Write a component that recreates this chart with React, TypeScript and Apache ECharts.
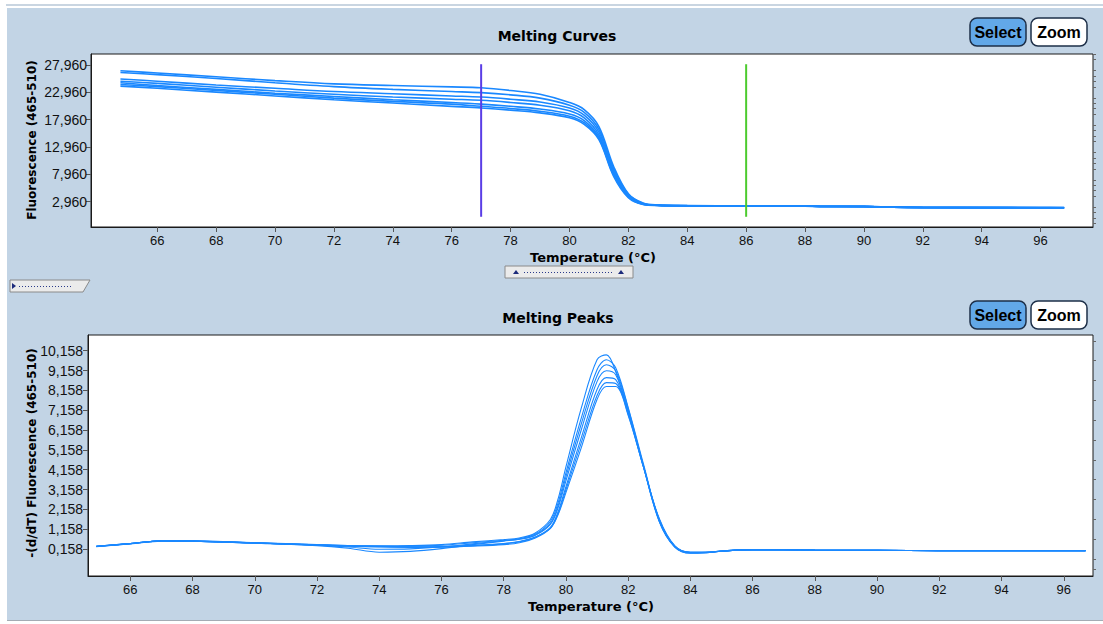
import React, { useEffect, useRef } from "react";
import * as echarts from "echarts";

// ---------- DATA ----------
const xTicks = [66, 68, 70, 72, 74, 76, 78, 80, 82, 84, 86, 88, 90, 92, 94, 96];

const topYTicks = [2960, 7960, 12960, 17960, 22960, 27960];
const topYLabels = ["2,960", "7,960", "12,960", "17,960", "22,960", "27,960"];

const bottomYTicks = [158, 1158, 2158, 3158, 4158, 5158, 6158, 7158, 8158, 9158, 10158];
const bottomYLabels = ["0,158", "1,158", "2,158", "3,158", "4,158", "5,158", "6,158", "7,158", "8,158", "9,158", "10,158"];

const cursorTemps = [77, 86];
const cursorRange = [28100, 200];

// Melting curves (fluorescence vs temperature)
const curveTemps = [64.75, 66, 68, 70, 72, 74, 76, 77, 78, 79, 80, 80.5, 81, 81.5, 82, 82.5, 83, 84, 86, 88, 88.5, 90, 91, 92, 94, 96, 96.8];
const curveA = [26900, 26500, 25800, 25100, 24500, 24200, 23950, 23800, 23300, 22600, 21100, 19800, 16700, 9400, 4400, 2700, 2350, 2250, 2200, 2180, 2120, 2100, 1980, 1920, 1900, 1880, 1880];
const curveB = [26600, 26200, 25500, 24700, 24000, 23500, 23100, 22900, 22500, 21900, 20600, 19300, 16200, 9000, 4300, 2650, 2330, 2240, 2200, 2170, 2110, 2090, 1970, 1910, 1890, 1880, 1870];
const curveC = [25400, 25000, 24300, 23700, 23100, 22700, 22300, 22100, 21700, 21200, 20100, 18800, 15700, 8600, 4100, 2600, 2310, 2230, 2190, 2160, 2100, 2080, 1960, 1900, 1880, 1870, 1860];
const curveD = [25000, 24600, 23900, 23200, 22600, 22100, 21700, 21500, 21100, 20600, 19600, 18300, 15200, 8300, 4000, 2550, 2300, 2220, 2180, 2150, 2100, 2070, 1950, 1900, 1880, 1860, 1860];
const curveE = [24700, 24200, 23500, 22800, 22200, 21600, 21100, 20800, 20400, 19900, 19000, 17800, 14800, 8000, 3900, 2500, 2290, 2210, 2170, 2150, 2090, 2070, 1950, 1890, 1870, 1860, 1850];
const curveF = [24400, 24000, 23300, 22600, 21900, 21300, 20800, 20400, 20000, 19500, 18600, 17400, 14500, 7800, 3800, 2500, 2280, 2200, 2170, 2140, 2090, 2060, 1940, 1890, 1870, 1850, 1850];
const curveG = [24100, 23700, 23000, 22300, 21600, 21000, 20400, 20100, 19700, 19200, 18300, 17100, 14300, 7600, 3700, 2450, 2270, 2200, 2160, 2140, 2080, 2060, 1940, 1880, 1860, 1850, 1840];

// Melting peaks (-dF/dT vs temperature)
const peakTemps = [64.9, 66, 67, 68, 70, 72, 73, 74, 75, 76, 77, 78, 78.5, 79, 79.5, 79.75, 80, 80.5, 81, 81.3, 81.6, 82, 82.5, 83, 83.5, 84, 84.5, 85, 86, 88, 90, 92, 94, 96, 96.7];
const peak1 = [300, 440, 580, 570, 480, 380, 340, 320, 330, 380, 520, 640, 720, 960, 1650, 2700, 4300, 7300, 9700, 9950, 9100, 7100, 4250, 1550, 260, -40, -10, 60, 130, 110, 90, 80, 80, 80, 80];
const peak2 = [280, 430, 570, 560, 470, 370, 320, 290, 300, 350, 480, 600, 680, 900, 1550, 2500, 4000, 6800, 9200, 9700, 9300, 7300, 4400, 1600, 280, -30, -20, 50, 120, 100, 90, 80, 80, 80, 80];
const peak3 = [290, 420, 560, 550, 450, 330, 200, 0, 40, 180, 380, 560, 650, 860, 1450, 2350, 3800, 6500, 8900, 9450, 9150, 7250, 4300, 1550, 260, -50, -20, 50, 120, 100, 90, 80, 80, 80, 80];
const peak4 = [290, 430, 570, 550, 460, 350, 260, 150, 170, 260, 420, 580, 660, 840, 1400, 2250, 3600, 6200, 8600, 9150, 8950, 7150, 4300, 1600, 280, -20, -20, 50, 120, 100, 90, 80, 80, 80, 80];
const peak5 = [300, 440, 580, 560, 470, 360, 310, 280, 260, 280, 330, 420, 520, 740, 1250, 2050, 3300, 5800, 8200, 8800, 8700, 7050, 4300, 1650, 300, -10, -10, 60, 130, 110, 90, 80, 80, 80, 80];
const peak6 = [290, 430, 570, 560, 460, 360, 300, 260, 240, 250, 300, 380, 480, 700, 1200, 1950, 3150, 5550, 7900, 8550, 8500, 6950, 4250, 1650, 300, -10, -10, 60, 130, 110, 90, 80, 80, 80, 80];
const peak7 = [300, 440, 580, 570, 470, 370, 330, 310, 300, 300, 340, 440, 540, 760, 1200, 1900, 3000, 5300, 7700, 8350, 8350, 6900, 4250, 1700, 320, 0, 0, 60, 130, 110, 90, 80, 80, 80, 80];

// ---------- HELPERS ----------
const LINE = "#1a88ff";
const FONT = "Liberation Sans";

const pair = (xs: number[], ys: number[]) => xs.map((x, i) => [x, ys[i]]);

const labelFor = (ticks: number[], labels: string[]) => (v: number) => {
  const i = ticks.findIndex((t) => Math.abs(t - v) < 1e-6);
  return i >= 0 ? labels[i] : "";
};

const minorTicks = (start: number, step: number, max: number, majors: number[]) => {
  const out: number[] = [];
  for (let v = start; v <= max; v += step) {
    if (!majors.some((m) => Math.abs(m - v) < 1e-6)) out.push(v);
  }
  return out;
};

const lineSeries = (data: number[][], xi: number, yi: number, width: number) => ({
  type: "line",
  xAxisIndex: xi,
  yAxisIndex: yi,
  data,
  smooth: 0.35,
  symbol: "none",
  showSymbol: false,
  lineStyle: { color: LINE, width },
  silent: true,
});

const button = (x: number, y: number, label: string, fill: string) => ({
  type: "group",
  silent: true,
  children: [
    {
      type: "rect",
      shape: { x, y, width: 56, height: 28, r: 7 },
      style: { fill, stroke: "#1d2f48", lineWidth: 1.5 },
    },
    {
      type: "text",
      x: x + 28,
      y: y + 14,
      style: {
        text: label,
        fill: "#000",
        font: `bold 16px "${FONT}"`,
        align: "center",
        verticalAlign: "middle",
      },
    },
  ],
});

const tri = (cx: number, cy: number, dir: "up" | "right") => ({
  type: "polygon",
  silent: true,
  shape: {
    points:
      dir === "up"
        ? [[cx - 3, cy + 2], [cx + 3, cy + 2], [cx, cy - 2]]
        : [[cx - 2, cy - 3], [cx - 2, cy + 3], [cx + 2, cy]],
  },
  style: { fill: "#1c2a7a" },
});

export default function App() {
  const ref = useRef<HTMLDivElement>(null);

  useEffect(() => {
    if (!ref.current) return;
    const chart = echarts.init(ref.current, null, { renderer: "svg" });

    const xAxisCommon = {
      type: "value",
      axisLine: { show: true, onZero: false, lineStyle: { color: "#1a1a1a" } },
      axisTick: { show: true, length: 5, customValues: xTicks, lineStyle: { color: "#555" } },
      axisLabel: { customValues: xTicks, fontSize: 13, color: "#111", margin: 7, fontFamily: FONT },
      splitLine: { show: false },
    };

    const topMinor = minorTicks(-1040, 1000, 29970, topYTicks);
    const bottomMinor = minorTicks(-842, 500, 10950, bottomYTicks);

    const option: any = {
      animation: false,
      textStyle: { fontFamily: FONT },
      grid: [
        { left: 91, top: 54, width: 1002, height: 173, show: true, backgroundColor: "#fff", borderColor: "#1a1a1a", borderWidth: 1 },
        { left: 88, top: 335, width: 1005, height: 241, show: true, backgroundColor: "#fff", borderColor: "#1a1a1a", borderWidth: 1 },
      ],
      xAxis: [
        { ...xAxisCommon, gridIndex: 0, min: 63.75, max: 97.78 },
        { ...xAxisCommon, gridIndex: 1, min: 64.64, max: 96.94 },
      ],
      yAxis: [
        {
          type: "value",
          gridIndex: 0,
          min: -1670,
          max: 29970,
          axisLine: { show: true, lineStyle: { color: "#1a1a1a" } },
          axisTick: { show: true, length: 5, customValues: topYTicks, lineStyle: { color: "#555" } },
          axisLabel: { customValues: topYTicks, formatter: labelFor(topYTicks, topYLabels), fontSize: 14, color: "#111", margin: 4, fontFamily: FONT },
          splitLine: { show: false },
        },
        {
          type: "value",
          gridIndex: 0,
          min: -1670,
          max: 29970,
          axisLine: { show: false },
          axisTick: { show: true, length: 3, customValues: topMinor, lineStyle: { color: "#666" } },
          axisLabel: { show: false },
          splitLine: { show: false },
        },
        {
          type: "value",
          gridIndex: 1,
          min: -1200,
          max: 10950,
          axisLine: { show: true, lineStyle: { color: "#1a1a1a" } },
          axisTick: { show: true, length: 5, customValues: bottomYTicks, lineStyle: { color: "#555" } },
          axisLabel: { customValues: bottomYTicks, formatter: labelFor(bottomYTicks, bottomYLabels), fontSize: 14, color: "#111", margin: 5, fontFamily: FONT },
          splitLine: { show: false },
        },
        {
          type: "value",
          gridIndex: 1,
          min: -1200,
          max: 10950,
          axisLine: { show: false },
          axisTick: { show: true, length: 3, customValues: bottomMinor, lineStyle: { color: "#666" } },
          axisLabel: { show: false },
          splitLine: { show: false },
        },
      ],
      series: [
        ...[curveA, curveB, curveC, curveD, curveE, curveF, curveG].map((c) => lineSeries(pair(curveTemps, c), 0, 0, 1.6)),
        ...[peak1, peak2, peak3, peak4, peak5, peak6, peak7].map((c) => lineSeries(pair(peakTemps, c), 1, 2, 1.1)),
        {
          type: "line",
          xAxisIndex: 0,
          yAxisIndex: 0,
          data: cursorRange.map((v) => [cursorTemps[0], v]),
          symbol: "none",
          lineStyle: { color: "#5a3de6", width: 2 },
          silent: true,
        },
        {
          type: "line",
          xAxisIndex: 0,
          yAxisIndex: 0,
          data: cursorRange.map((v) => [cursorTemps[1], v]),
          symbol: "none",
          lineStyle: { color: "#4ccb2e", width: 2 },
          silent: true,
        },
      ],
      graphic: [
        // titles
        { type: "text", x: 557, y: 36, silent: true, style: { text: "Melting Curves", fill: "#000", font: 'bold 14px "DejaVu Sans"', align: "center", verticalAlign: "middle" } },
        { type: "text", x: 558, y: 318, silent: true, style: { text: "Melting Peaks", fill: "#000", font: 'bold 14px "DejaVu Sans"', align: "center", verticalAlign: "middle" } },
        // axis names
        { type: "text", x: 593, y: 257, silent: true, style: { text: "Temperature (°C)", fill: "#000", font: 'bold 13px "DejaVu Sans"', align: "center", verticalAlign: "middle" } },
        { type: "text", x: 591, y: 606, silent: true, style: { text: "Temperature (°C)", fill: "#000", font: 'bold 13px "DejaVu Sans"', align: "center", verticalAlign: "middle" } },
        { type: "text", x: 32, y: 140, rotation: Math.PI / 2, silent: true, style: { text: "Fluorescence (465-510)", fill: "#000", font: 'bold 12px "DejaVu Sans"', align: "center", verticalAlign: "middle" } },
        { type: "text", x: 32, y: 453, rotation: Math.PI / 2, silent: true, style: { text: "-(d/dT) Fluorescence (465-510)", fill: "#000", font: 'bold 12px "DejaVu Sans"', align: "center", verticalAlign: "middle" } },
        // buttons
        button(970, 18, "Select", "#62a8e8"),
        button(1031, 18, "Zoom", "#ffffff"),
        button(970, 301, "Select", "#62a8e8"),
        button(1031, 301, "Zoom", "#ffffff"),
        // splitter handles
        {
          type: "polygon",
          silent: true,
          shape: { points: [[10, 280], [90, 280], [83, 292], [10, 292]] },
          style: { fill: "#ebebeb", stroke: "#8a8a8a", lineWidth: 1 },
        },
        tri(14, 286, "right"),
        { type: "line", silent: true, shape: { x1: 19, y1: 286.5, x2: 72, y2: 286.5 }, style: { stroke: "#2a3a8a", lineWidth: 1, lineDash: [1, 2] } },
        {
          type: "rect",
          silent: true,
          shape: { x: 505, y: 266, width: 128, height: 12 },
          style: { fill: "#ebebeb", stroke: "#8a8a8a", lineWidth: 1 },
        },
        tri(516, 272, "up"),
        tri(621, 272, "up"),
        { type: "line", silent: true, shape: { x1: 524, y1: 272.5, x2: 613, y2: 272.5 }, style: { stroke: "#2a3a8a", lineWidth: 1, lineDash: [1, 2] } },
      ],
    };

    chart.setOption(option);
    return () => chart.dispose();
  }, []);

  return (
    <div style={{ position: "absolute", left: 0, top: 0, width: 1103, height: 624, background: "#fff", overflow: "hidden" }}>
      <div style={{ position: "absolute", left: 6, top: 4, width: 1097, height: 2, background: "#c9d5e1" }} />
      <div style={{ position: "absolute", left: 7, top: 8, width: 1096, height: 612, background: "#c2d4e5", borderBottom: "1px solid #a4acb4" }} />
      <div ref={ref} style={{ position: "absolute", left: 0, top: 0, width: 1103, height: 624 }} />
    </div>
  );
}
